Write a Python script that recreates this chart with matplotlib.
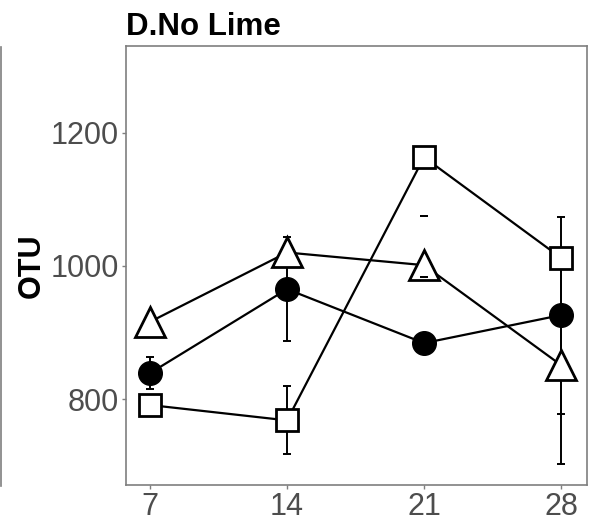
import matplotlib.pyplot as plt
from matplotlib.lines import Line2D

plt.rcParams['font.family'] = ['Liberation Sans', 'DejaVu Sans']

days = [7, 14, 21, 28]

# three treatments
circle_mean = [839, 965, 884, 926]
circle_err = [24, 78, 0, 148]
triangle_mean = [916, 1020, 1001, 851]
triangle_err = [0, 0, 0, 149]
square_mean = [791, 768, 1163, 1012]
square_err = [0, 51, 0, 0]
# lone error-bar caps visible at day 21
stray_caps_21 = [1075, 983]

ytick_vals = [800, 1000, 1200]

fig = plt.figure(figsize=(5.97, 5.22), dpi=100)
ax = fig.add_axes([0.2111, 0.0709, 0.7722, 0.841])

tick_grey = "#4d4d4d"
frame_grey = "#7f7f7f"

for mean, err in [(circle_mean, circle_err), (triangle_mean, triangle_err), (square_mean, square_err)]:
    ax.errorbar(days, mean, yerr=err, fmt="none", ecolor="black", elinewidth=1.4,
                capsize=3, capthick=1.4, zorder=2)

ax.errorbar([21] * len(stray_caps_21), stray_caps_21, yerr=0, fmt="none", ecolor="black",
            elinewidth=1.4, capsize=3, capthick=1.4, zorder=4)

ax.plot(days, circle_mean, color="black", lw=1.6, marker="o", ms=17,
        mfc="black", mec="black", zorder=3)
ax.plot(days, triangle_mean, color="black", lw=1.6, marker="^", ms=21,
        mfc="white", mec="black", mew=2, zorder=3)
ax.plot(days, square_mean, color="black", lw=1.6, marker="s", ms=16.5,
        mfc="white", mec="black", mew=2, zorder=3)

ax.set_xlim(5.77, 29.33)
ax.set_ylim(671, 1330)
ax.set_xticks(days)
ax.set_yticks(ytick_vals)
ax.tick_params(axis="both", colors=frame_grey, labelcolor=tick_grey, labelsize=22,
               length=3, width=1, pad=2)
for s in ax.spines.values():
    s.set_color(frame_grey)
    s.set_linewidth(1.2)

ax.set_ylabel("OTU", fontsize=22, fontweight="bold", labelpad=3)
ax.set_title("D.No Lime", loc="left", fontsize=22.5, fontweight="bold", pad=8)

# edge of neighbouring panel
fig.add_artist(Line2D([0.002, 0.002], [0.069, 0.91], color=frame_grey, lw=1.2,
                      transform=fig.transFigure))

fig.savefig("out.png", dpi=100)
